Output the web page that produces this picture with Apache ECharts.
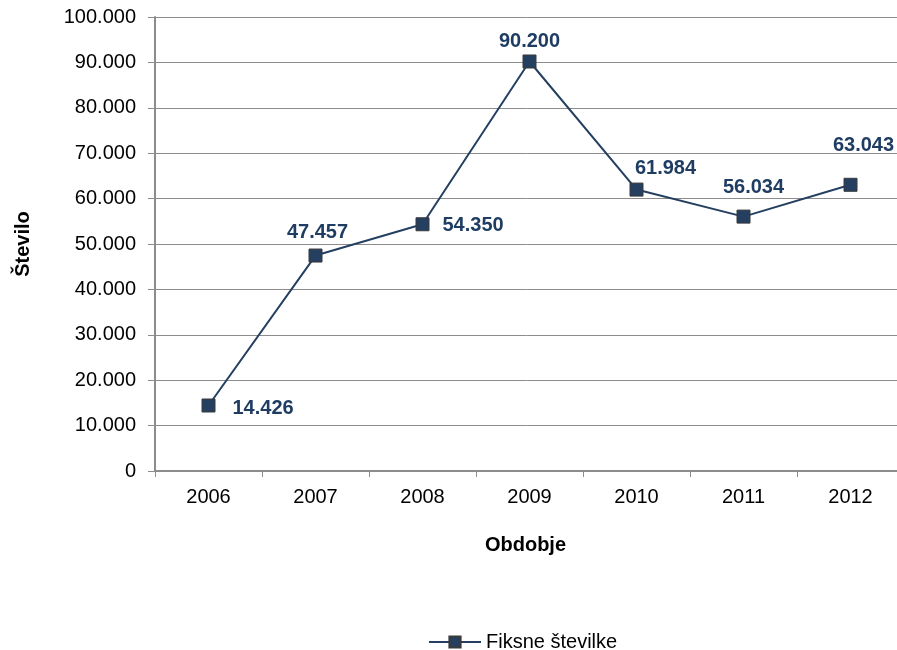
<!DOCTYPE html>
<html><head><meta charset="utf-8">
<script src="https://cdn.jsdelivr.net/npm/echarts@6/dist/echarts.min.js"></script>
<style>html,body{margin:0;padding:0;background:#fff}#c{width:897px;height:650px}</style>
</head><body><div id="c"></div>
<script>
const categories = ['2006','2007','2008','2009','2010','2011','2012'];
const values = [14426, 47457, 54350, 90200, 61984, 56034, 63043];
const seriesName = 'Fiksne številke';

const labelCfg = [
  {position:'right', distance:17, offset:[0,3]},
  {position:'top', distance:6, offset:[2,0]},
  {position:'right', distance:13, offset:[0,1]},
  {position:'top', distance:3, offset:[0,0]},
  {position:'top', distance:4, offset:[29,0]},
  {position:'top', distance:12, offset:[10,0]},
  {position:'top', distance:22, offset:[13,0]}
];
function fmt(v){ return String(v).replace(/\B(?=(\d{3})+(?!\d))/g,'.'); }
function fmtTick(v){ if(v===0) return '0'; return (v/1000).toFixed(0)+'.000'; }

const chart = echarts.init(document.getElementById('c'));
chart.setOption({
  animation:false,
  textStyle:{fontFamily:'Liberation Sans, Arial, sans-serif'},
  grid:{left:155, width:749, top:17, bottom:179, outerBoundsMode:'none', containLabel:false},
  xAxis:{
    type:'category', data:categories, boundaryGap:true,
    name:'Obdobje', nameLocation:'middle', nameGap:64,
    nameTextStyle:{fontSize:20, fontWeight:'bold', color:'#000', padding:[0,8,0,0]},
    axisLine:{lineStyle:{color:'#8c8c8c', width:2}},
    axisTick:{show:true, inside:false, length:6, lineStyle:{color:'#8c8c8c'}},
    axisLabel:{fontSize:20, color:'#000', margin:16}
  },
  yAxis:{
    type:'value', min:0, max:100000, interval:10000,
    name:'Število', nameLocation:'middle', nameGap:122,
    nameTextStyle:{fontSize:20, fontWeight:'bold', color:'#000'},
    axisLine:{show:true, lineStyle:{color:'#8c8c8c', width:2}},
    axisTick:{show:true, length:7, lineStyle:{color:'#8c8c8c'}},
    splitLine:{lineStyle:{color:'#8c8c8c', width:1}},
    axisLabel:{fontSize:20, color:'#000', margin:19, formatter:fmtTick}
  },
  legend:{
    top:627, left:423, itemWidth:52, itemHeight:14, itemGap:7,
    textStyle:{fontSize:20, color:'#000'},
    data:[seriesName]
  },
  series:[{
    name:seriesName, type:'line',
    data: values.map((v,i)=>({value:v, label:{position:labelCfg[i].position, distance:labelCfg[i].distance, offset:labelCfg[i].offset}})),
    lineStyle:{color:'#243f60', width:2},
    itemStyle:{color:'#243f60', borderColor:'#3a3a3a', borderWidth:1},
    symbol:'rect', symbolSize:13,
    label:{show:true, fontSize:20, fontWeight:'bold', color:'#1f3d63', formatter:p=>fmt(p.value)}
  }]
});
</script></body></html>
